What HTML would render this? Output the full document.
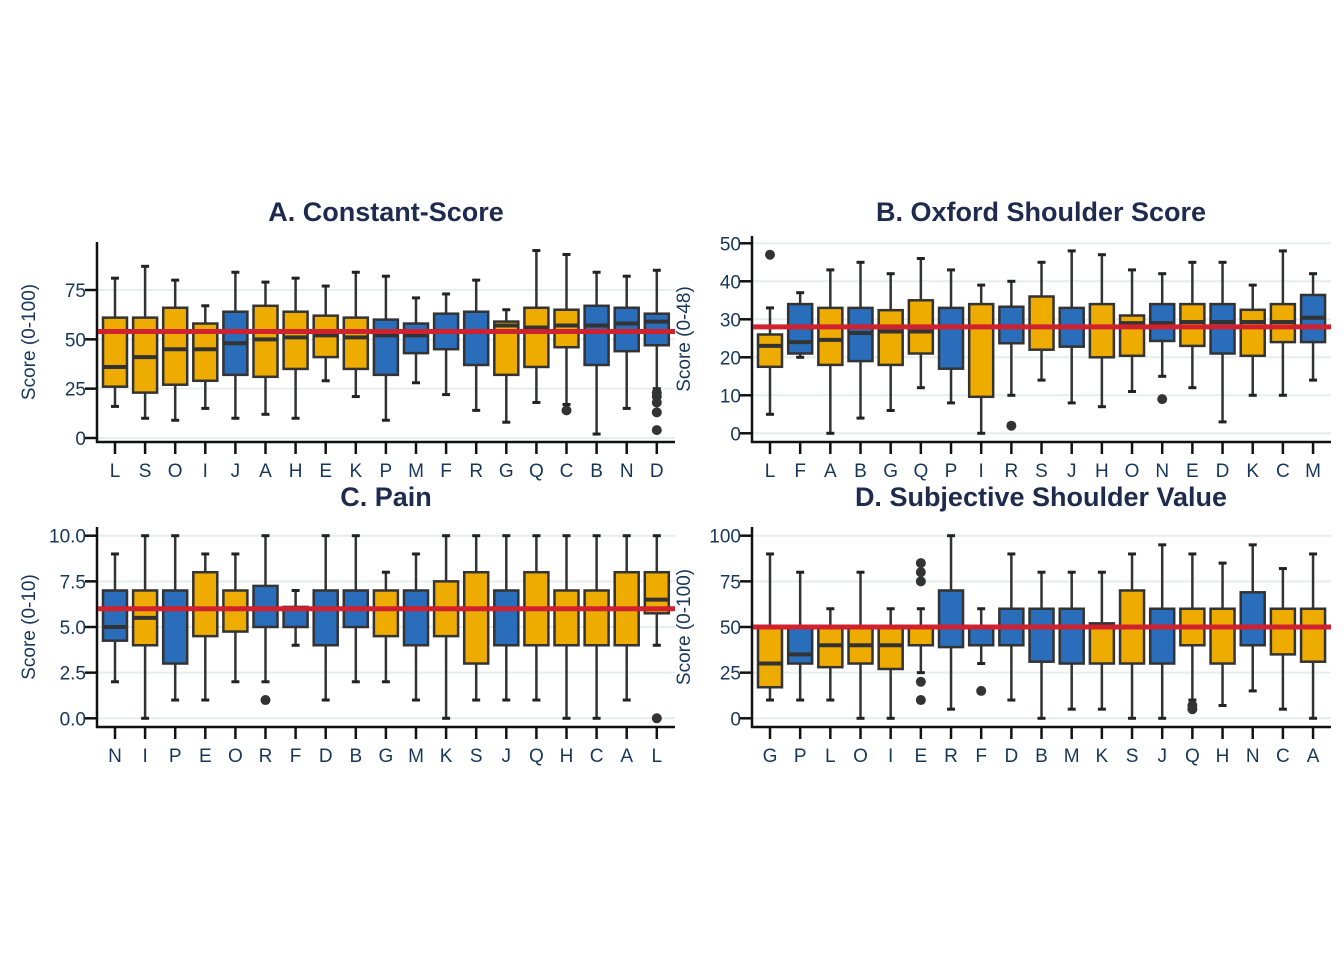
<!DOCTYPE html>
<html><head><meta charset="utf-8">
<style>
html,body{margin:0;padding:0;background:#fff;}
svg{display:block;font-family:"Liberation Sans",sans-serif;}
</style></head>
<body>
<svg id="chart" width="1344" height="960" viewBox="0 0 1344 960" xmlns="http://www.w3.org/2000/svg"></svg>
<script>
// ---------- Panel A: Constant-Score ----------
const catsA = ["L","S","O","I","J","A","H","E","K","P","M","F","R","G","Q","C","B","N","D"];
const lowA  = [16,10,9,15,10,12,10,29,21,9,28,22,14,8,18,17,2,15,25];
const q1A   = [26,23,27,29,32,31,35,41,35,32,43,45,37,32,36,46,37,44,47];
const medA  = [36,41,45,45,48,50,51,52,51,52,52,54,54,57,56,57,57,58,59];
const q3A   = [61,61,66,58,64,67,64,62,61,60,58,63,64,59,66,65,67,66,63];
const highA = [81,87,80,67,84,79,81,77,84,82,71,73,80,65,95,93,84,82,85];
const outA  = [[],[],[],[],[],[],[],[],[],[],[],[],[],[],[],[14],[],[],[23,21,18,13,4]];
const refA = 54;
const ticksA = [0,25,50,75];
const tickLabelsA = ["0","25","50","75"];

// ---------- Panel B: Oxford Shoulder Score ----------
const catsB = ["L","F","A","B","G","Q","P","I","R","S","J","H","O","N","E","D","K","C","M"];
const lowB  = [5,20,0,4,6,12,8,0,10,14,8,7,11,15,12,3,10,10,14];
const q1B   = [17.5,21,18,19,18,21,17,9.6,23.7,22,22.8,20,20.4,24.3,23,21,20.4,24,24];
const medB  = [23,24,24.6,26.4,26.8,26.8,28,28,28,28,28,28,29,29,29.3,29.3,29.3,29.3,30.4];
const q3B   = [26,34,33,33,32.4,35,33,34,33.3,36,33,34,31,34,34,34,32.5,34,36.4];
const highB = [33,37,43,45,42,46,43,39,40,45,48,47,43,42,45,45,39,48,42];
const outB  = [[47],[],[],[],[],[],[],[],[2],[],[],[],[],[9],[],[],[],[],[]];
const refB = 28;
const ticksB = [0,10,20,30,40,50];
const tickLabelsB = ["0","10","20","30","40","50"];

// ---------- Panel C: Pain ----------
const catsC = ["N","I","P","E","O","R","F","D","B","G","M","K","S","J","Q","H","C","A","L"];
const lowC  = [2,0,1,1,2,2,4,1,2,2,1,0,1,1,1,0,0,1,4];
const q1C   = [4.25,4,3,4.5,4.75,5,5,4,5,4.5,4,4.5,3,4,4,4,4,4,5.75];
const medC  = [5,5.5,6,6,6,6,6,6,6,6,6,6,6,6,6,6,6,6,6.5];
const q3C   = [7,7,7,8,7,7.25,6.1,7,7,7,7,7.5,8,7,8,7,7,8,8];
const highC = [9,10,10,9,9,10,7,10,10,8,9,10,10,10,10,10,10,10,10];
const outC  = [[],[],[],[],[],[1],[],[],[],[],[],[],[],[],[],[],[],[],[0]];
const refC = 6;
const ticksC = [0,2.5,5,7.5,10];
const tickLabelsC = ["0.0","2.5","5.0","7.5","10.0"];

// ---------- Panel D: Subjective Shoulder Value ----------
const catsD = ["G","P","L","O","I","E","R","F","D","B","M","K","S","J","Q","H","N","C","A"];
const lowD  = [10,10,10,0,0,25,5,30,10,0,5,5,0,0,10,7,15,5,0];
const q1D   = [17,30,28,30,27,40,39,40,40,31,30,30,30,30,40,30,40,35,31];
const medD  = [30,35,40,40,40,50,50,50,50,50,50,50,50,50,50,50,50,50,50];
const q3D   = [50,50,50,50,50,50,70,50,60,60,60,52,70,60,60,60,69,60,60];
const highD = [90,80,60,80,60,60,100,60,90,80,80,80,90,95,90,85,95,82,90];
const outD  = [[],[],[],[],[],[85,80,75,20,10],[],[15],[],[],[],[],[],[],[7,5],[],[],[],[]];
const refD = 50;
const ticksD = [0,25,50,75,100];
const tickLabelsD = ["0","25","50","75","100"];

const blueGroup = ["J","P","M","F","R","B","N","D"];

const NS = "http://www.w3.org/2000/svg";
const svg = document.getElementById("chart");
function mk(tag, attrs, parent){
  const e = document.createElementNS(NS, tag);
  for (const k in attrs) e.setAttribute(k, attrs[k]);
  (parent||svg).appendChild(e);
  return e;
}

function panel(cfg){
  const g = mk("g", {});
  
  
  const y = v => cfg.y0 - (v - cfg.vmin) / (cfg.vmax - cfg.vmin) * (cfg.y0 - cfg.y1);
  const x = i => cfg.xc0 + i * cfg.step;
  cfg.ticks.forEach((t,i) => {
    const gl = mk("line", {x1:cfg.axX, x2:cfg.axR, y1:y(t), y2:y(t), stroke:"#e6eeee", "stroke-width":2}, g);
    
    
  });
  const tt = mk("text", {x:cfg.titleX, y:cfg.titleY, "text-anchor":"middle", "font-size":27, "font-weight":"bold", fill:"#1e2b4f"}, g);
  tt.textContent = cfg.title;
  
  
  const yl = mk("text", {x:0, y:0, transform:`translate(${cfg.axX-62},${(cfg.axTop+cfg.axY)/2}) rotate(-90)`, "text-anchor":"middle", "font-size":19, fill:"#17375a"}, g);
  yl.textContent = cfg.ylabel;
  
  
  const ya = mk("line", {x1:cfg.axX, x2:cfg.axX, y1:cfg.axTop, y2:cfg.axY+1, stroke:"#111", "stroke-width":2.5}, g);
  
  
  const xa = mk("line", {x1:cfg.axX-1, x2:cfg.axR, y1:cfg.axY, y2:cfg.axY, stroke:"#111", "stroke-width":2.5}, g);
  
  
  cfg.ticks.forEach((t,i) => {
    const tk = mk("line", {x1:cfg.axX-12, x2:cfg.axX, y1:y(t), y2:y(t), stroke:"#111", "stroke-width":2.5}, g);
    
    
    const tl = mk("text", {x:cfg.axX-11, y:y(t)+7, "text-anchor":"end", "font-size":19, fill:"#17375a"}, g);
    tl.textContent = cfg.tickLabels[i];
    
    
  });
  cfg.cats.forEach((c,i) => {
    const cx = x(i), w = 24;
    const bg = mk("g", {}, g);
    
    
    const fill = blueGroup.includes(c) ? "#2a6dbb" : "#eeab00";
    mk("line", {x1:cx, x2:cx, y1:y(cfg.high[i]), y2:y(cfg.low[i]), stroke:"#333", "stroke-width":2.5}, bg);
    mk("line", {x1:cx-4, x2:cx+4, y1:y(cfg.high[i]), y2:y(cfg.high[i]), stroke:"#222", "stroke-width":3}, bg);
    mk("line", {x1:cx-4, x2:cx+4, y1:y(cfg.low[i]), y2:y(cfg.low[i]), stroke:"#222", "stroke-width":3}, bg);
    const top = y(cfg.q3[i]), bot = y(cfg.q1[i]);
    mk("rect", {x:cx-w/2, y:top, width:w, height:Math.max(bot-top,1), fill:fill, stroke:"#333", "stroke-width":2.5}, bg);
    mk("line", {x1:cx-w/2, x2:cx+w/2, y1:y(cfg.med[i]), y2:y(cfg.med[i]), stroke:"#333", "stroke-width":4}, bg);
    cfg.out[i].forEach(o => {
      const p = mk("circle", {cx:cx, cy:y(o), r:5, fill:"#333"}, bg);
      
      
    });
    const xt = mk("line", {x1:cx, x2:cx, y1:cfg.axY, y2:cfg.axY+12, stroke:"#111", "stroke-width":2.5}, g);
    
    
    const xl = mk("text", {x:cx, y:cfg.axY+35, "text-anchor":"middle", "font-size":19, fill:"#17375a"}, g);
    xl.textContent = c;
    
    
  });
  const rl = mk("line", {x1:cfg.axX+1, x2:cfg.axR, y1:y(cfg.ref), y2:y(cfg.ref), stroke:"#d0212e", "stroke-width":5}, g);
  
  
}

panel({name:"panel-a-constant-score", title:"A. Constant-Score", titleX:386, titleY:221, ylabel:"Score (0-100)",
  cats:catsA, low:lowA, q1:q1A, med:medA, q3:q3A, high:highA, out:outA, ref:refA, ticks:ticksA, tickLabels:tickLabelsA,
  vmin:0, vmax:75, y0:438, y1:290, axX:97, axR:675, axY:442, axTop:242, xc0:115, step:30.1});
panel({name:"panel-b-oxford", title:"B. Oxford Shoulder Score", titleX:1041, titleY:221, ylabel:"Score (0-48)",
  cats:catsB, low:lowB, q1:q1B, med:medB, q3:q3B, high:highB, out:outB, ref:refB, ticks:ticksB, tickLabels:tickLabelsB,
  vmin:0, vmax:50, y0:433.3, y1:243.3, axX:752, axR:1331, axY:442, axTop:236, xc0:770, step:30.17});
panel({name:"panel-c-pain", title:"C. Pain", titleX:386, titleY:506, ylabel:"Score (0-10)",
  cats:catsC, low:lowC, q1:q1C, med:medC, q3:q3C, high:highC, out:outC, ref:refC, ticks:ticksC, tickLabels:tickLabelsC,
  vmin:0, vmax:10, y0:718.3, y1:535.7, axX:97, axR:675, axY:727, axTop:527, xc0:115, step:30.1});
panel({name:"panel-d-ssv", title:"D. Subjective Shoulder Value", titleX:1041, titleY:506, ylabel:"Score (0-100)",
  cats:catsD, low:lowD, q1:q1D, med:medD, q3:q3D, high:highD, out:outD, ref:refD, ticks:ticksD, tickLabels:tickLabelsD,
  vmin:0, vmax:100, y0:718.3, y1:535.7, axX:752, axR:1331, axY:727, axTop:527, xc0:770, step:30.17});
</script>
</body></html>
